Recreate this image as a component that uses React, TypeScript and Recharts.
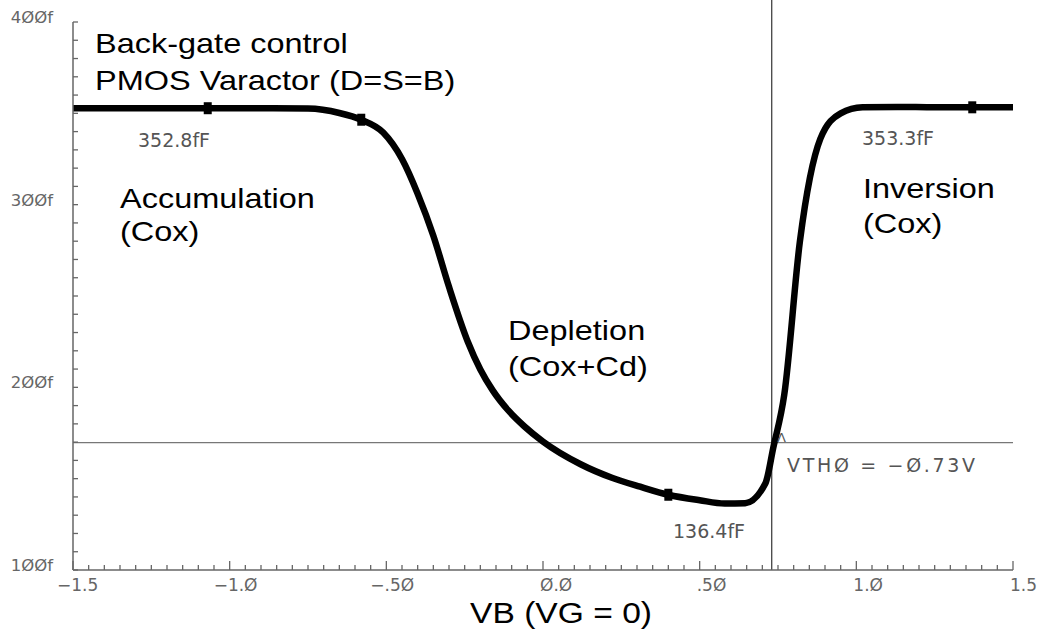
import React from 'react';
import { ComposedChart, Line, Scatter, XAxis, YAxis, ReferenceLine } from 'recharts';

// VB sweep (V) and gate capacitance (fF)
const vb = [
  -1.5, -1.25, -1.07, -0.9, -0.75, -0.65, -0.58, -0.51, -0.45, -0.4, -0.35, -0.3, -0.24, -0.2,
  -0.16, -0.11, -0.06, 0.0, 0.12, 0.22, 0.31, 0.4, 0.5, 0.58, 0.645, 0.71, 0.735, 0.77, 0.82,
  0.885, 0.95, 1.02, 1.13, 1.25, 1.37, 1.5,
];
const cap = [
  352.8, 352.8, 352.8, 352.8, 352.6, 350.2, 346.5, 339.5, 325, 306, 283, 255, 225, 209.8,
  198.2, 187.2, 178.7, 170.3, 157.9, 150.5, 145.6, 141.2, 138.2, 136.4, 136.6, 147.5, 167, 196, 280,
  336, 350, 353.3, 353.5, 353.3, 353.3, 353.3,
];

// cursor markers on the trace
const markVb = [-1.07, -0.58, 0.4, 1.37];
const markCap = [352.8, 346.5, 141.2, 353.3];

// threshold crosshair
const vth = 0.73;
const vthCap = 169.7;

const xMajor = [-1.5, -1.0, -0.5, 0, 0.5, 1.0, 1.5];
const xLabels = ['−1.5', '−1.Ø', '−.5Ø', 'Ø.Ø', '.5Ø', '1.Ø', '1.5'];
const yMajor = [100, 200, 300, 400];
const yLabels = ['1ØØf', '2ØØf', '3ØØf', '4ØØf'];

const data = vb.map((v, i) => ({ vb: v, cap: cap[i] }));
const markers = markVb.map((v, i) => ({ vb: v, cap: markCap[i] }));

// minor ticks every 0.05 V and every 10 fF
const xTicks: number[] = [];
for (let i = 0; i <= 60; i++) xTicks.push(Math.round((-1.5 + i * 0.05) * 100) / 100);
const yTicks: number[] = [];
for (let i = 0; i <= 30; i++) yTicks.push(100 + i * 10);

const AXIS = '#666';
const GRAY = '#555';
const MONO = '"DejaVu Sans", sans-serif';
const SANS = '"Liberation Sans", Arial, sans-serif';

const XTick = (props: any) => {
  const { x, y, payload } = props;
  const idx = xMajor.findIndex((m) => Math.abs(m - payload.value) < 1e-6);
  const major = idx >= 0;
  const label = major ? xLabels[idx] : '';
  const neg = label.startsWith('−');
  return (
    <g>
      <line x1={x} x2={x} y1={y} y2={y - (major ? 9 : 5)} stroke={AXIS} strokeWidth={1.3} />
      {major && (
        <text x={x - 3 - (neg ? 13 : 0)} y={y + 21} fontSize={17} fontFamily={MONO} fill={AXIS}>
          {label}
        </text>
      )}
    </g>
  );
};

const YTick = (props: any) => {
  const { x, y, payload } = props;
  const idx = yMajor.indexOf(payload.value);
  return (
    <g>
      <line x1={x} x2={x + 5} y1={y} y2={y} stroke={AXIS} strokeWidth={1.3} />
      {idx >= 0 && (
        <text x={x - 20} y={y + 1} textAnchor="end" fontSize={16.5} fontFamily={MONO} fill={AXIS}>
          {yLabels[idx]}
        </text>
      )}
    </g>
  );
};

const Marker = (props: any) => {
  const { cx, cy } = props;
  return <rect x={cx - 4} y={cy - 6} width={8} height={12} fill="#000" />;
};

const Txt = ({ x, y, size = 28, sx = 1.16, children }: any) => (
  <text transform={`translate(${x},${y}) scale(${sx},1)`} fontSize={size} fontFamily={SANS} fill="#000">
    {children}
  </text>
);

const Note = ({ x, y, children, len }: any) => (
  <text x={x} y={y} fontSize={19} fontFamily={MONO} fill={GRAY} textLength={len} lengthAdjust={len ? 'spacing' : undefined}>
    {children}
  </text>
);

export default function App() {
  return (
    <div style={{ position: 'relative', width: 1037, height: 635, background: '#fff' }}>
      <style>{'body{margin:0;background:#fff}'}</style>
      <ComposedChart width={1037} height={635} data={data} margin={{ top: 22, right: 24, bottom: 0, left: 0 }}>
        <XAxis
          dataKey="vb"
          type="number"
          domain={[-1.5, 1.5]}
          ticks={xTicks}
          interval={0}
          tick={<XTick />}
          tickLine={false}
          tickSize={0}
          tickMargin={0}
          height={65}
          axisLine={{ stroke: AXIS, strokeWidth: 1.5 }}
          allowDataOverflow
        />
        <YAxis
          type="number"
          domain={[100, 400]}
          ticks={yTicks}
          interval={0}
          tick={<YTick />}
          tickLine={false}
          tickSize={0}
          tickMargin={0}
          width={73}
          axisLine={{ stroke: AXIS, strokeWidth: 1.5 }}
          allowDataOverflow
        />
        <ReferenceLine y={vthCap} stroke="#777" strokeWidth={1.2} />
        <ReferenceLine
          segment={[{ x: vth, y: 100 }, { x: vth, y: 412 }]}
          stroke="#333"
          strokeWidth={1.2}
          ifOverflow="visible"
        />
        <Line
          dataKey="cap"
          type="monotone"
          stroke="#000"
          strokeWidth={6.5}
          strokeLinejoin="round"
          dot={false}
          activeDot={false}
          isAnimationActive={false}
        />
        <Scatter data={markers} dataKey="cap" shape={<Marker />} isAnimationActive={false} />
      </ComposedChart>
      <svg width={1037} height={635} style={{ position: 'absolute', left: 0, top: 0, pointerEvents: 'none' }}>
        <Txt x={95} y={53}>Back-gate control</Txt>
        <Txt x={95} y={90}>PMOS Varactor (D=S=B)</Txt>
        <Txt x={120} y={208}>Accumulation</Txt>
        <Txt x={120} y={241}>(Cox)</Txt>
        <Txt x={508} y={340}>Depletion</Txt>
        <Txt x={508} y={376}>(Cox+Cd)</Txt>
        <Txt x={863} y={198}>Inversion</Txt>
        <Txt x={863} y={233}>(Cox)</Txt>
        <Txt x={470} y={623} size={30} sx={1.12}>VB (VG = 0)</Txt>
        <Note x={138} y={147}>352.8fF</Note>
        <Note x={862} y={145}>353.3fF</Note>
        <Note x={673} y={538}>136.4fF</Note>
        <Note x={787} y={472} len={188}>VTHØ = −Ø.73V</Note>
        <text x={777} y={442} fontSize={13} fontFamily={MONO} fill={GRAY}>Λ</text>
      </svg>
    </div>
  );
}
